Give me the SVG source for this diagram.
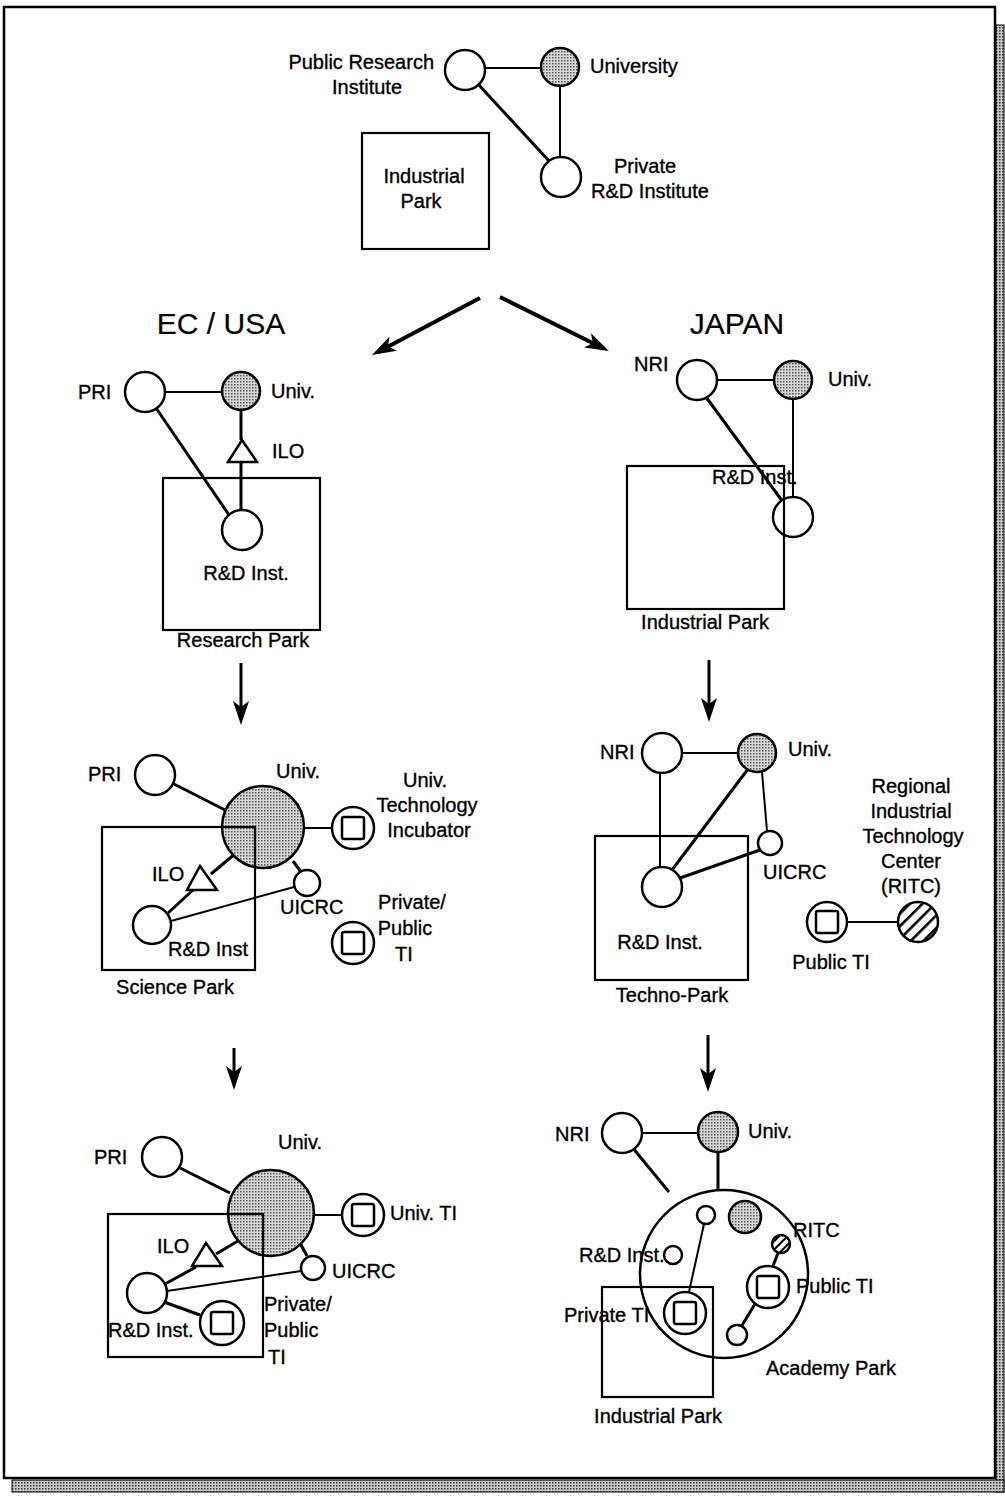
<svg xmlns="http://www.w3.org/2000/svg" width="1005" height="1499" viewBox="0 0 1005 1499">
<defs>
<pattern id="dots" width="3" height="3" patternUnits="userSpaceOnUse"><rect width="3" height="3" fill="#d8d8d8"/><rect width="1.5" height="1.5" fill="#555"/></pattern>
<pattern id="shade" width="3" height="3" patternUnits="userSpaceOnUse"><rect width="3" height="3" fill="#c8c8c8"/><rect width="1.5" height="1.5" fill="#333"/></pattern>
<pattern id="hatch" width="9" height="9" patternUnits="userSpaceOnUse" patternTransform="rotate(-45)"><rect width="9" height="9" fill="#fff"/><rect y="3" width="9" height="2.6" fill="#000"/></pattern>
<pattern id="hatch2" width="6" height="6" patternUnits="userSpaceOnUse" patternTransform="rotate(-45)"><rect width="6" height="6" fill="#fff"/><rect y="2" width="6" height="2" fill="#000"/></pattern>
<marker id="ah" viewBox="0 0 24 16" refX="12" refY="8" markerWidth="24" markerHeight="16" markerUnits="userSpaceOnUse" orient="auto"><path d="M0,0 L24,8 L0,16 L6,8 z" fill="#000"/></marker>
</defs>
<style>
text{font-family:"Liberation Sans",Arial,Helvetica,sans-serif;font-size:20px;fill:#000;stroke:#000;stroke-width:0.35}
.title{font-size:30px;stroke-width:0.2}
.m{text-anchor:middle}
.e{text-anchor:end}
.n{fill:#fff;stroke:#000;stroke-width:2.5}
.g{fill:url(#dots);stroke:#000;stroke-width:2.5}
.h{fill:url(#hatch);stroke:#000;stroke-width:2.5}
.sq{fill:none;stroke:#000;stroke-width:2.5}
.box{fill:none;stroke:#000;stroke-width:2.2}
.l{stroke:#000;stroke-width:2;fill:none}
.t{stroke:#000;stroke-width:3;fill:none}
.arr{stroke:#000;stroke-width:4;fill:none;marker-end:url(#ah)}
.arr2{stroke:#000;stroke-width:3;fill:none;marker-end:url(#ah)}
</style>
<rect width="1005" height="1499" fill="#fff"/>
<g id="frame">
<rect x="996" y="25" width="8" height="1467" fill="url(#shade)" stroke="#000" stroke-width="1"/>
<rect x="12" y="1480" width="992" height="12" fill="url(#shade)" stroke="#000" stroke-width="1"/>
<rect x="4" y="7" width="991" height="1471" fill="#fff" stroke="#000" stroke-width="2.5"/>
</g>

<g id="connectors">
<line class="l" x1="485" y1="68" x2="541" y2="68"/>
<line class="t" x1="478" y1="84" x2="550" y2="162"/>
<line class="l" x1="560" y1="86" x2="560" y2="157"/>
<line class="arr" x1="480" y1="298" x2="382.6" y2="349.4"/>
<line class="arr" x1="500" y1="297" x2="598.2" y2="345.7"/>
<line class="arr2" x1="241" y1="663" x2="241" y2="713"/>
<line class="arr2" x1="709" y1="660" x2="709" y2="710"/>
<line class="arr2" x1="234" y1="1048" x2="234" y2="1078"/>
<line class="arr2" x1="708" y1="1035" x2="708" y2="1080"/>
<line class="l" x1="165" y1="392" x2="222" y2="392"/>
<line class="t" x1="156" y1="408" x2="229" y2="515"/>
<line class="t" x1="241" y1="410" x2="241" y2="440"/>
<line class="t" x1="241" y1="462" x2="241" y2="510"/>
<line class="l" x1="717" y1="380" x2="774" y2="380"/>
<line class="t" x1="706" y1="397" x2="783" y2="502"/>
<line class="l" x1="793" y1="399" x2="793" y2="497"/>
<line class="t" x1="172" y1="783" x2="225" y2="810"/>
<line class="l" x1="304" y1="828" x2="332" y2="828"/>
<line class="t" x1="236" y1="853" x2="211" y2="874"/>
<line class="t" x1="193" y1="890" x2="168" y2="913"/>
<line class="t" x1="293" y1="861" x2="301" y2="872"/>
<line class="l" x1="171" y1="921" x2="294" y2="887"/>
<line class="l" x1="682" y1="753" x2="737" y2="753"/>
<line class="l" x1="660" y1="773" x2="660" y2="867"/>
<line class="t" x1="748" y1="769" x2="672" y2="870"/>
<line class="l" x1="762" y1="772" x2="767" y2="831"/>
<line class="t" x1="680" y1="878" x2="760" y2="850"/>
<line class="l" x1="847" y1="922" x2="898" y2="922"/>
<line class="t" x1="180" y1="1168" x2="230" y2="1193"/>
<line class="l" x1="315" y1="1215" x2="341" y2="1215"/>
<line class="t" x1="243" y1="1238" x2="216" y2="1254"/>
<line class="t" x1="196" y1="1267" x2="165" y2="1284"/>
<line class="t" x1="300" y1="1243" x2="307" y2="1256"/>
<line class="l" x1="167" y1="1291" x2="301" y2="1271"/>
<line class="t" x1="164" y1="1302" x2="200" y2="1315"/>
<line class="l" x1="642" y1="1133" x2="698" y2="1133"/>
<line class="t" x1="632" y1="1147" x2="669" y2="1192"/>
<line class="t" x1="718" y1="1152" x2="718" y2="1190"/>
<line class="l" x1="704" y1="1224" x2="689" y2="1292"/>
<line class="t" x1="778" y1="1253" x2="773" y2="1266"/>
<line class="t" x1="755" y1="1304" x2="741" y2="1327"/>
</g>

<g id="top-pri"><circle class="n" cx="465" cy="70" r="20"/><text class="e" x="434" y="69">Public Research</text><text class="m" x="367" y="94">Institute</text></g>
<g id="top-univ"><circle class="g" cx="560" cy="67" r="19"/><text x="590" y="73">University</text></g>
<g id="top-private"><circle class="n" cx="561" cy="177" r="20"/><text class="m" x="645" y="173">Private</text><text class="m" x="650" y="198">R&amp;D Institute</text></g>
<g id="top-park"><rect class="box" x="362" y="133" width="127" height="116"/><text class="m" x="424" y="183">Industrial</text><text class="m" x="421" y="208">Park</text></g>

<g id="titles"><text class="title m" x="221" y="334">EC / USA</text><text class="title m" x="737" y="334">JAPAN</text></g>

<g id="ec1-pri"><circle class="n" cx="145" cy="392" r="20"/><text x="78" y="399">PRI</text></g>
<g id="ec1-univ"><circle class="g" cx="241" cy="391" r="19"/><text x="271" y="398">Univ.</text></g>
<g id="ec1-ilo"><polygon class="n" points="242,440 228,462 257,462"/><text x="272" y="458">ILO</text></g>
<g id="ec1-rd"><circle class="n" cx="242" cy="530" r="20"/><text class="m" x="246" y="580">R&amp;D Inst.</text></g>
<g id="ec1-park"><rect class="box" x="163" y="478" width="157" height="152"/><text class="m" x="243" y="647">Research Park</text></g>

<g id="jp1-nri"><circle class="n" cx="697" cy="380" r="20"/><text x="634" y="371">NRI</text></g>
<g id="jp1-univ"><circle class="g" cx="793" cy="380" r="19"/><text x="828" y="386">Univ.</text></g>
<g id="jp1-rd"><circle class="n" cx="793" cy="517" r="20"/><text x="712" y="484">R&amp;D Inst.</text></g>
<g id="jp1-park"><rect class="box" x="627" y="466" width="157" height="143"/><text class="m" x="705" y="629">Industrial Park</text></g>

<g id="ec2-pri"><circle class="n" cx="155" cy="775" r="20"/><text x="88" y="781">PRI</text></g>
<g id="ec2-univ"><circle class="g" cx="263" cy="827" r="41"/><text x="276" y="778">Univ.</text></g>
<g id="ec2-uti"><circle class="n" cx="353" cy="828" r="21"/><rect class="sq" x="342" y="817" width="22" height="22" rx="2"/><text class="m" x="425" y="787">Univ.</text><text class="m" x="427" y="812">Technology</text><text class="m" x="429" y="837">Incubator</text></g>
<g id="ec2-ilo"><polygon class="n" points="200,866 187,890 217,890"/><text x="152" y="881">ILO</text></g>
<g id="ec2-rd"><circle class="n" cx="152" cy="925" r="19"/><text x="168" y="956">R&amp;D Inst</text></g>
<g id="ec2-uicrc"><circle class="n" cx="307" cy="883" r="13"/><text x="280" y="914">UICRC</text></g>
<g id="ec2-pti"><circle class="n" cx="353" cy="943" r="21"/><rect class="sq" x="342" y="932" width="22" height="22" rx="2"/><text class="m" x="412" y="909">Private/</text><text class="m" x="405" y="935">Public</text><text class="m" x="404" y="961">TI</text></g>
<g id="ec2-park"><rect class="box" x="102" y="827" width="153" height="143"/><text class="m" x="175" y="994">Science Park</text></g>

<g id="jp2-nri"><circle class="n" cx="662" cy="753" r="20"/><text x="600" y="759">NRI</text></g>
<g id="jp2-univ"><circle class="g" cx="757" cy="753" r="19"/><text x="788" y="756">Univ.</text></g>
<g id="jp2-rd"><circle class="n" cx="662" cy="887" r="20"/><text class="m" x="660" y="949">R&amp;D Inst.</text></g>
<g id="jp2-uicrc"><circle class="n" cx="770" cy="843" r="12"/><text x="763" y="879">UICRC</text></g>
<g id="jp2-park"><rect class="box" x="595" y="836" width="153" height="144"/><text class="m" x="672" y="1002">Techno-Park</text></g>
<g id="jp2-pti"><circle class="n" cx="827" cy="922" r="20"/><rect class="sq" x="816" y="911" width="22" height="22" rx="2"/><text class="m" x="831" y="969">Public TI</text></g>
<g id="jp2-ritc"><circle class="h" cx="918" cy="922" r="20"/><text class="m" x="911" y="793">Regional</text><text class="m" x="911" y="818">Industrial</text><text class="m" x="913" y="843">Technology</text><text class="m" x="911" y="868">Center</text><text class="m" x="911" y="893">(RITC)</text></g>

<g id="ec3-pri"><circle class="n" cx="162" cy="1157" r="20"/><text x="94" y="1164">PRI</text></g>
<g id="ec3-univ"><circle class="g" cx="271" cy="1213" r="43"/><text x="278" y="1149">Univ.</text></g>
<g id="ec3-uti"><circle class="n" cx="363" cy="1215" r="21"/><rect class="sq" x="352" y="1204" width="22" height="22" rx="2"/><text x="390" y="1220">Univ. TI</text></g>
<g id="ec3-ilo"><polygon class="n" points="206,1243 192,1266 222,1266"/><text x="157" y="1253">ILO</text></g>
<g id="ec3-rd"><circle class="n" cx="147" cy="1293" r="20"/><text x="108" y="1337">R&amp;D Inst.</text></g>
<g id="ec3-uicrc"><circle class="n" cx="313" cy="1268" r="12"/><text x="332" y="1278">UICRC</text></g>
<g id="ec3-pti"><circle class="n" cx="222" cy="1323" r="22"/><rect class="sq" x="211" y="1312" width="22" height="22" rx="2"/><text x="264" y="1311">Private/</text><text x="264" y="1337">Public</text><text x="268" y="1364">TI</text></g>
<g id="ec3-park"><rect class="box" x="108" y="1214" width="155" height="143"/></g>

<g id="jp3-nri"><circle class="n" cx="622" cy="1133" r="20"/><text x="555" y="1141">NRI</text></g>
<g id="jp3-univ"><circle class="g" cx="718" cy="1132" r="20"/><text x="748" y="1138">Univ.</text></g>
<g id="jp3-academy"><circle fill="none" stroke="#000" stroke-width="2.5" cx="724" cy="1274" r="84"/><text x="766" y="1375">Academy Park</text></g>
<g id="jp3-small1"><circle class="n" cx="706" cy="1215" r="9"/></g>
<g id="jp3-univ2"><circle class="g" cx="745" cy="1217" r="16"/></g>
<g id="jp3-ritc"><circle fill="url(#hatch2)" stroke="#000" stroke-width="2.5" cx="781" cy="1244" r="9"/><text x="793" y="1237">RITC</text></g>
<g id="jp3-rd"><circle class="n" cx="673" cy="1255" r="9"/><text x="579" y="1262">R&amp;D Inst.</text></g>
<g id="jp3-pubti"><circle class="n" cx="768" cy="1287" r="21"/><rect class="sq" x="757" y="1276" width="22" height="22" rx="2"/><text x="796" y="1293">Public TI</text></g>
<g id="jp3-small2"><circle class="n" cx="737" cy="1335" r="10"/></g>
<g id="jp3-privti"><circle class="n" cx="685" cy="1313" r="21"/><rect class="sq" x="674" y="1302" width="22" height="22" rx="2"/><text x="564" y="1322">Private TI</text></g>
<g id="jp3-park"><rect class="box" x="602" y="1287" width="111" height="110"/><text class="m" x="658" y="1423">Industrial Park</text></g>
</svg>
